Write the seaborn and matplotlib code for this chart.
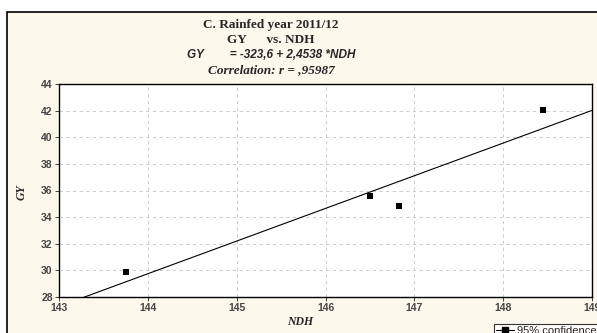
import numpy as np
import pandas as pd
import matplotlib
matplotlib.use("Agg")
import matplotlib.pyplot as plt
import seaborn as sns
from matplotlib.patches import Rectangle
from matplotlib.lines import Line2D

# data
ndh = [143.75, 146.5, 146.83, 148.45]
gy = [29.85, 35.6, 34.8, 42.05]
intercept = -323.6
slope = 2.4538
x_ticks = [143, 144, 145, 146, 147, 148, 149]
y_ticks = [28, 30, 32, 34, 36, 38, 40, 42, 44]

sns.set_theme(style="white")
plt.rcParams['font.family'] = ['Liberation Serif', 'DejaVu Serif']

fig = plt.figure(figsize=(5.97, 3.33), dpi=100, facecolor='white')

# beige panel with black frame (cut off at right/bottom)
fig.patches.append(Rectangle((7 / 597, -0.1), 1.2, 1.1 - 12 / 333,
                             transform=fig.transFigure, facecolor='#fdf8ec',
                             edgecolor='black', linewidth=1.2, zorder=-5))

ax = fig.add_axes([59 / 597, 1 - 297 / 333, 533 / 597, 213 / 333])
ax.set_zorder(2)
ax.set_facecolor('white')

df = pd.DataFrame({'NDH': ndh, 'GY': gy})
line_x = np.linspace(x_ticks[0], x_ticks[-1], 50)
line_df = pd.DataFrame({'NDH': line_x, 'GY': intercept + slope * line_x})

sns.lineplot(data=line_df, x='NDH', y='GY', ax=ax, color='black', linewidth=0.8)
sns.scatterplot(data=df, x='NDH', y='GY', ax=ax, marker='s', s=24,
                color='black', edgecolor='black', linewidth=0, zorder=5)

ax.set_xlim(143, 149)
ax.set_ylim(28, 44)
ax.set_xticks(x_ticks)
ax.set_yticks(y_ticks)
ax.set_xticklabels([str(t) for t in x_ticks], family='Liberation Sans',
                   fontsize=7.5, fontweight='bold', color='#444444')
ax.set_yticklabels([str(t) for t in y_ticks], family='Liberation Sans',
                   fontsize=7.5, fontweight='bold', color='#444444')
ax.tick_params(axis='both', direction='out', length=3, width=0.6, pad=1.5,
               left=True, bottom=True)
ax.grid(True, color='#c4c4c4', linestyle=(0, (4, 4)), linewidth=0.6)
for sp in ax.spines.values():
    sp.set_color('black')
    sp.set_linewidth(1.0)
ax.set_xlabel('')
ax.set_ylabel('')

fig.text(22 / 597, 1 - 192 / 333, 'GY', rotation=90, ha='center', va='center',
         fontsize=8.5, fontweight='bold', fontstyle='italic')
fig.text(300 / 597, 1 - 322 / 333, 'NDH', ha='center', va='center',
         fontsize=8.5, fontweight='bold', fontstyle='italic')

cx = 271 / 597
fig.text(cx, 1 - 25 / 333, 'C. Rainfed year 2011/12', ha='center', va='center',
         fontsize=9.5, fontweight='bold')
fig.text(cx, 1 - 40 / 333, 'GY      vs. NDH', ha='center', va='center',
         fontsize=9.5, fontweight='bold')
fig.text(cx, 1 - 55 / 333, 'GY        = -323,6 + 2,4538 *NDH', ha='center',
         va='center', fontsize=8.5, fontweight='bold', fontstyle='italic',
         family='Liberation Sans')
fig.text(cx, 1 - 70 / 333, 'Correlation: r = ,95987', ha='center', va='center',
         fontsize=9.5, fontweight='bold', fontstyle='italic')

handle = Line2D([], [], color='black', marker='s', markersize=5, linewidth=0.8)
leg = fig.legend([handle], ['95% confidence'], loc='upper left',
                 bbox_to_anchor=(488 / 597, 1 - 318 / 333), frameon=True,
                 fancybox=False, borderpad=0.2, handlelength=1.6,
                 handletextpad=0.3,
                 prop={'family': 'Liberation Sans', 'size': 8})
leg.get_frame().set_edgecolor('black')
leg.get_frame().set_facecolor('white')
leg.get_frame().set_linewidth(0.8)

fig.savefig('out.png', dpi=100)
